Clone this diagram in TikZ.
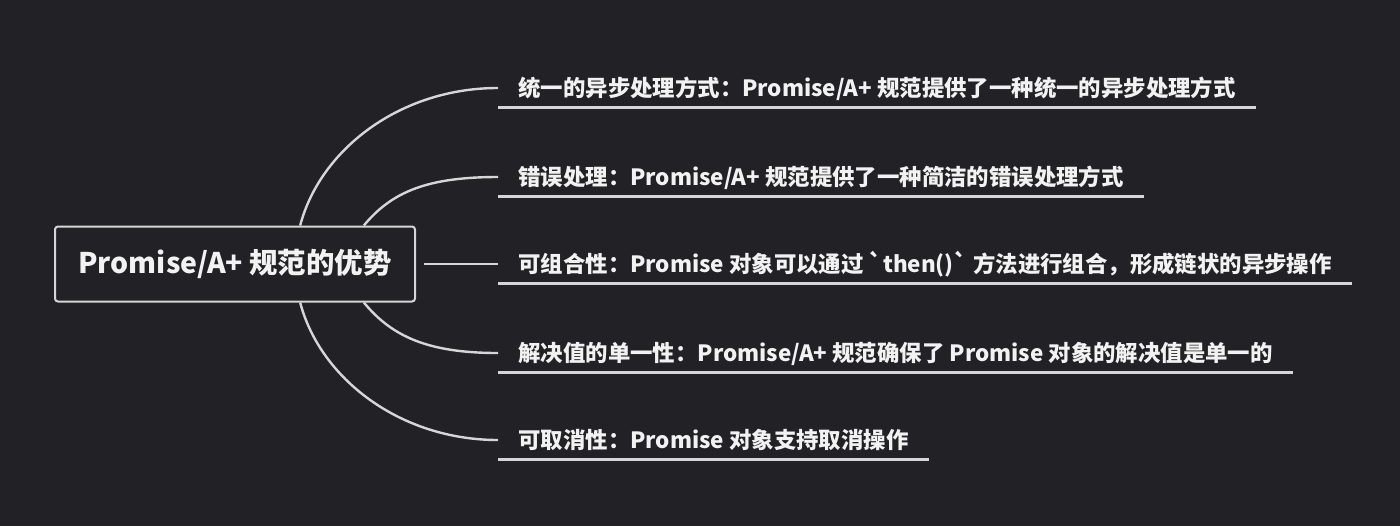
\documentclass[tikz,border=0pt]{standalone}
\usepackage{fontspec}
\newfontfamily\cjk{Noto Sans CJK SC}
\usetikzlibrary{positioning,calc}
\definecolor{bgdark}{HTML}{222226}
\definecolor{branchgray}{HTML}{D6D6D6}
\definecolor{textwhite}{HTML}{F2F2F2}
\tikzset{
  rootbox/.style={draw=branchgray,line width=1pt,rounded corners=1.5pt,fill=bgdark,
    minimum width=180pt,minimum height=37.5pt,inner sep=0pt,text=textwhite,font=\cjk\bfseries\fontsize{14.2}{16}\selectfont},
  leaf/.style={anchor=west,inner xsep=10pt,inner ysep=0pt,text height=13.8pt,text depth=5.2pt,
    text=textwhite,font=\cjk\bfseries\fontsize{11.2}{13}\selectfont},
  branch/.style={draw=branchgray,line width=1.2pt},
  uline/.style={draw=branchgray,line width=1.2pt}
}
\begin{document}
\begin{tikzpicture}[x=0.5pt,y=-0.5pt]
% dark canvas, same size as the reference
\fill[bgdark] (0,0) rectangle (1400,526);
\useasboundingbox (0,0) rectangle (1400,526);
\node[rootbox] (root) at (235,264) {Promise/A+ 规范的优势};
% five leaves, text sits on an underline
\node[leaf] (l1) at (498,88) {统一的异步处理方式：Promise/A+ 规范提供了一种统一的异步处理方式};
\node[leaf] (l2) at (498,177) {错误处理：Promise/A+ 规范提供了一种简洁的错误处理方式};
\node[leaf] (l3) at (498,264) {可组合性：Promise 对象可以通过 `then()` 方法进行组合，形成链状的异步操作};
\node[leaf] (l4) at (498,353) {解决值的单一性：Promise/A+ 规范确保了 Promise 对象的解决值是单一的};
\node[leaf] (l5) at (498,440) {可取消性：Promise 对象支持取消操作};
\foreach \n in {l1,l2,l3,l4,l5} {\draw[uline] (\n.south west) -- (\n.south east);}
% branch curves from the box edges
\coordinate (t1) at ($(root.north west)!0.68!(root.north east)$);
\coordinate (t2) at ($(root.north west)!0.856!(root.north east)$);
\coordinate (b1) at ($(root.south west)!0.68!(root.south east)$);
\coordinate (b2) at ($(root.south west)!0.856!(root.south east)$);
\draw[branch] (t1) .. controls +(20,-76) and +(-98,0) .. (l1.west);
\draw[branch] (t2) .. controls +(28,-34) and +(-70,0) .. (l2.west);
\draw[branch] ($(root.east)+(8,0)$) -- (l3.west);
\draw[branch] (b2) .. controls +(28,34) and +(-70,0) .. (l4.west);
\draw[branch] (b1) .. controls +(20,76) and +(-98,0) .. (l5.west);
\end{tikzpicture}
\end{document}
